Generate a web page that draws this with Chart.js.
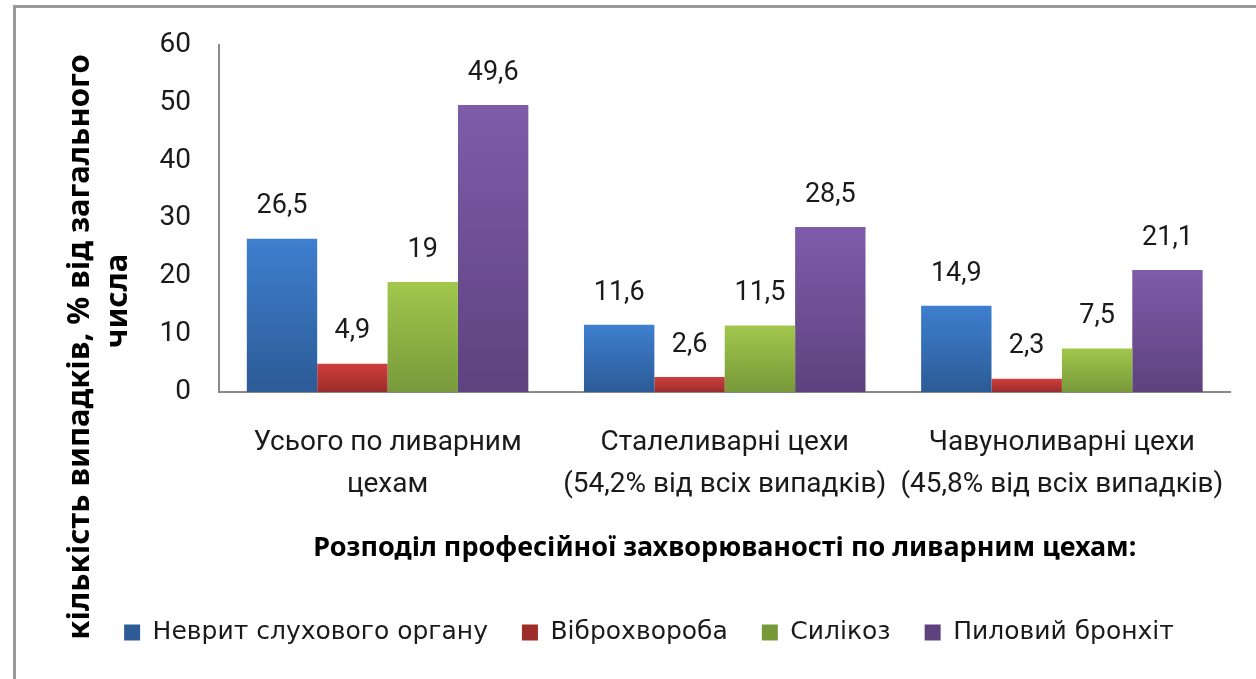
<!DOCTYPE html>
<html lang="uk">
<head>
    <meta charset="UTF-8">
    <title>Розподіл професійної захворюваності по ливарним цехам</title>
    <script src="https://cdn.jsdelivr.net/npm/chart.js"></script>
    <style>
        html, body { margin: 0; padding: 0; background: #fff; }
        #frame {
            position: absolute; left: 13px; top: 5px; width: 1400px; height: 800px;
            border-left: 3px solid #9a9a9a; border-top: 3px solid #9a9a9a;
        }
        #wrap { position: absolute; left: 0; top: 0; width: 1256px; height: 679px; }
    </style>
</head>
<body>
    <div id="frame"></div>
    <div id="wrap"><canvas id="chart"></canvas></div>

    <script>
        // data
        const categories = [
            ['Усього по ливарним', 'цехам'],
            ['Сталеливарні цехи', '(54,2% від всіх випадків)'],
            ['Чавуноливарні цехи', '(45,8% від всіх випадків)']
        ];
        const seriesNames = ['Неврит слухового органу', 'Віброхвороба', 'Силікоз', 'Пиловий бронхіт'];
        const neuritis = [26.5, 11.6, 14.9];
        const vibration = [4.9, 2.6, 2.3];
        const silicosis = [19, 11.5, 7.5];
        const bronchitis = [49.6, 28.5, 21.1];
        const yTicks = [0, 10, 20, 30, 40, 50, 60];

        const yTitle = ['кількість випадків, % від загального', 'числа'];
        const xTitle = 'Розподіл професійної захворюваності по ливарним цехам:';

        // top / bottom colour of each series gradient
        const palette = [
            ['#3e7fcf', '#2c5b96'],
            ['#cf3f3c', '#9c2d2b'],
            ['#a2c74c', '#78993a'],
            ['#7e5caa', '#5d427e']
        ];

        const labelFont = 'Roboto, "Noto Sans", sans-serif';
        const boldFont = '"Noto Sans", "Open Sans", sans-serif';

        function barFill(idx) {
            return (context) => {
                const chart = context.chart;
                if (context.type !== 'data' || !chart.chartArea) return palette[idx][0];
                const y = chart.scales.y;
                const top = y.getPixelForValue(context.raw);
                const base = y.getPixelForValue(0);
                const g = chart.ctx.createLinearGradient(0, top, 0, base);
                g.addColorStop(0, palette[idx][0]);
                g.addColorStop(1, palette[idx][1]);
                return g;
            };
        }

        const values = [neuritis, vibration, silicosis, bronchitis];
        const datasets = values.map((vals, i) => ({
            label: seriesNames[i],
            data: vals,
            backgroundColor: barFill(i),
            borderWidth: 0
        }));

        // values above bars, with comma decimals
        const valueLabels = {
            id: 'valueLabels',
            afterDatasetsDraw(chart) {
                const ctx = chart.ctx;
                ctx.save();
                ctx.font = '27px ' + labelFont;
                ctx.fillStyle = '#1a1a1a';
                ctx.textAlign = 'center';
                ctx.textBaseline = 'middle';
                chart.data.datasets.forEach((ds, i) => {
                    chart.getDatasetMeta(i).data.forEach((bar, j) => {
                        const txt = String(ds.data[j]).replace('.', ',');
                        ctx.fillText(txt, bar.x, bar.y - 32);
                    });
                });
                ctx.restore();
            }
        };

        // two-line rotated y title, longer than the axis itself
        const sideTitle = {
            id: 'sideTitle',
            afterDraw(chart) {
                const ctx = chart.ctx;
                const left = chart.chartArea.left;
                const spots = [[left - 139, 347], [left - 101, 301]];
                yTitle.forEach((line, i) => {
                    ctx.save();
                    ctx.font = 'bold 31px ' + boldFont;
                    ctx.fillStyle = '#000';
                    ctx.textAlign = 'center';
                    ctx.textBaseline = 'middle';
                    ctx.translate(spots[i][0], spots[i][1]);
                    ctx.rotate(-Math.PI / 2);
                    ctx.fillText(line, 0, 0);
                    ctx.restore();
                });
            }
        };

        new Chart(document.getElementById('chart'), {
            type: 'bar',
            data: { labels: categories, datasets: datasets },
            options: {
                responsive: true,
                maintainAspectRatio: false,
                animation: false,
                layout: { padding: { top: 42, right: 16, left: 58, bottom: 24 } },
                datasets: { bar: { categoryPercentage: 0.835, barPercentage: 1 } },
                plugins: {
                    tooltip: { enabled: false },
                    legend: {
                        position: 'bottom',
                        labels: {
                            boxWidth: 16, boxHeight: 16, padding: 34,
                            color: '#1a1a1a',
                            font: { family: '"DejaVu Sans", Verdana, sans-serif', size: 25 }
                        }
                    }
                },
                scales: {
                    x: {
                        grid: { display: false, drawTicks: false },
                        border: { color: '#8a8a8a', width: 2 },
                        ticks: {
                            color: '#1a1a1a', padding: 30,
                            font: { family: labelFont, size: 28, lineHeight: 1.5 },
                            maxRotation: 0
                        },
                        title: {
                            display: true, text: xTitle, color: '#000',
                            font: { family: boldFont, size: 27, weight: 'bold' },
                            padding: { top: 0, bottom: 21 }
                        },
                        afterFit(scale) { scale.height = 194; }
                    },
                    y: {
                        min: 0, max: 60,
                        afterBuildTicks(scale) { scale.ticks = yTicks.map(v => ({ value: v })); },
                        grid: { display: false, drawTicks: false },
                        border: { color: '#8a8a8a', width: 2 },
                        ticks: {
                            color: '#1a1a1a', padding: 28,
                            font: { family: labelFont, size: 28 }
                        },
                        afterFit(scale) { scale.width = 219 - 58; }
                    }
                }
            },
            plugins: [valueLabels, sideTitle]
        });
    </script>
</body>
</html>
